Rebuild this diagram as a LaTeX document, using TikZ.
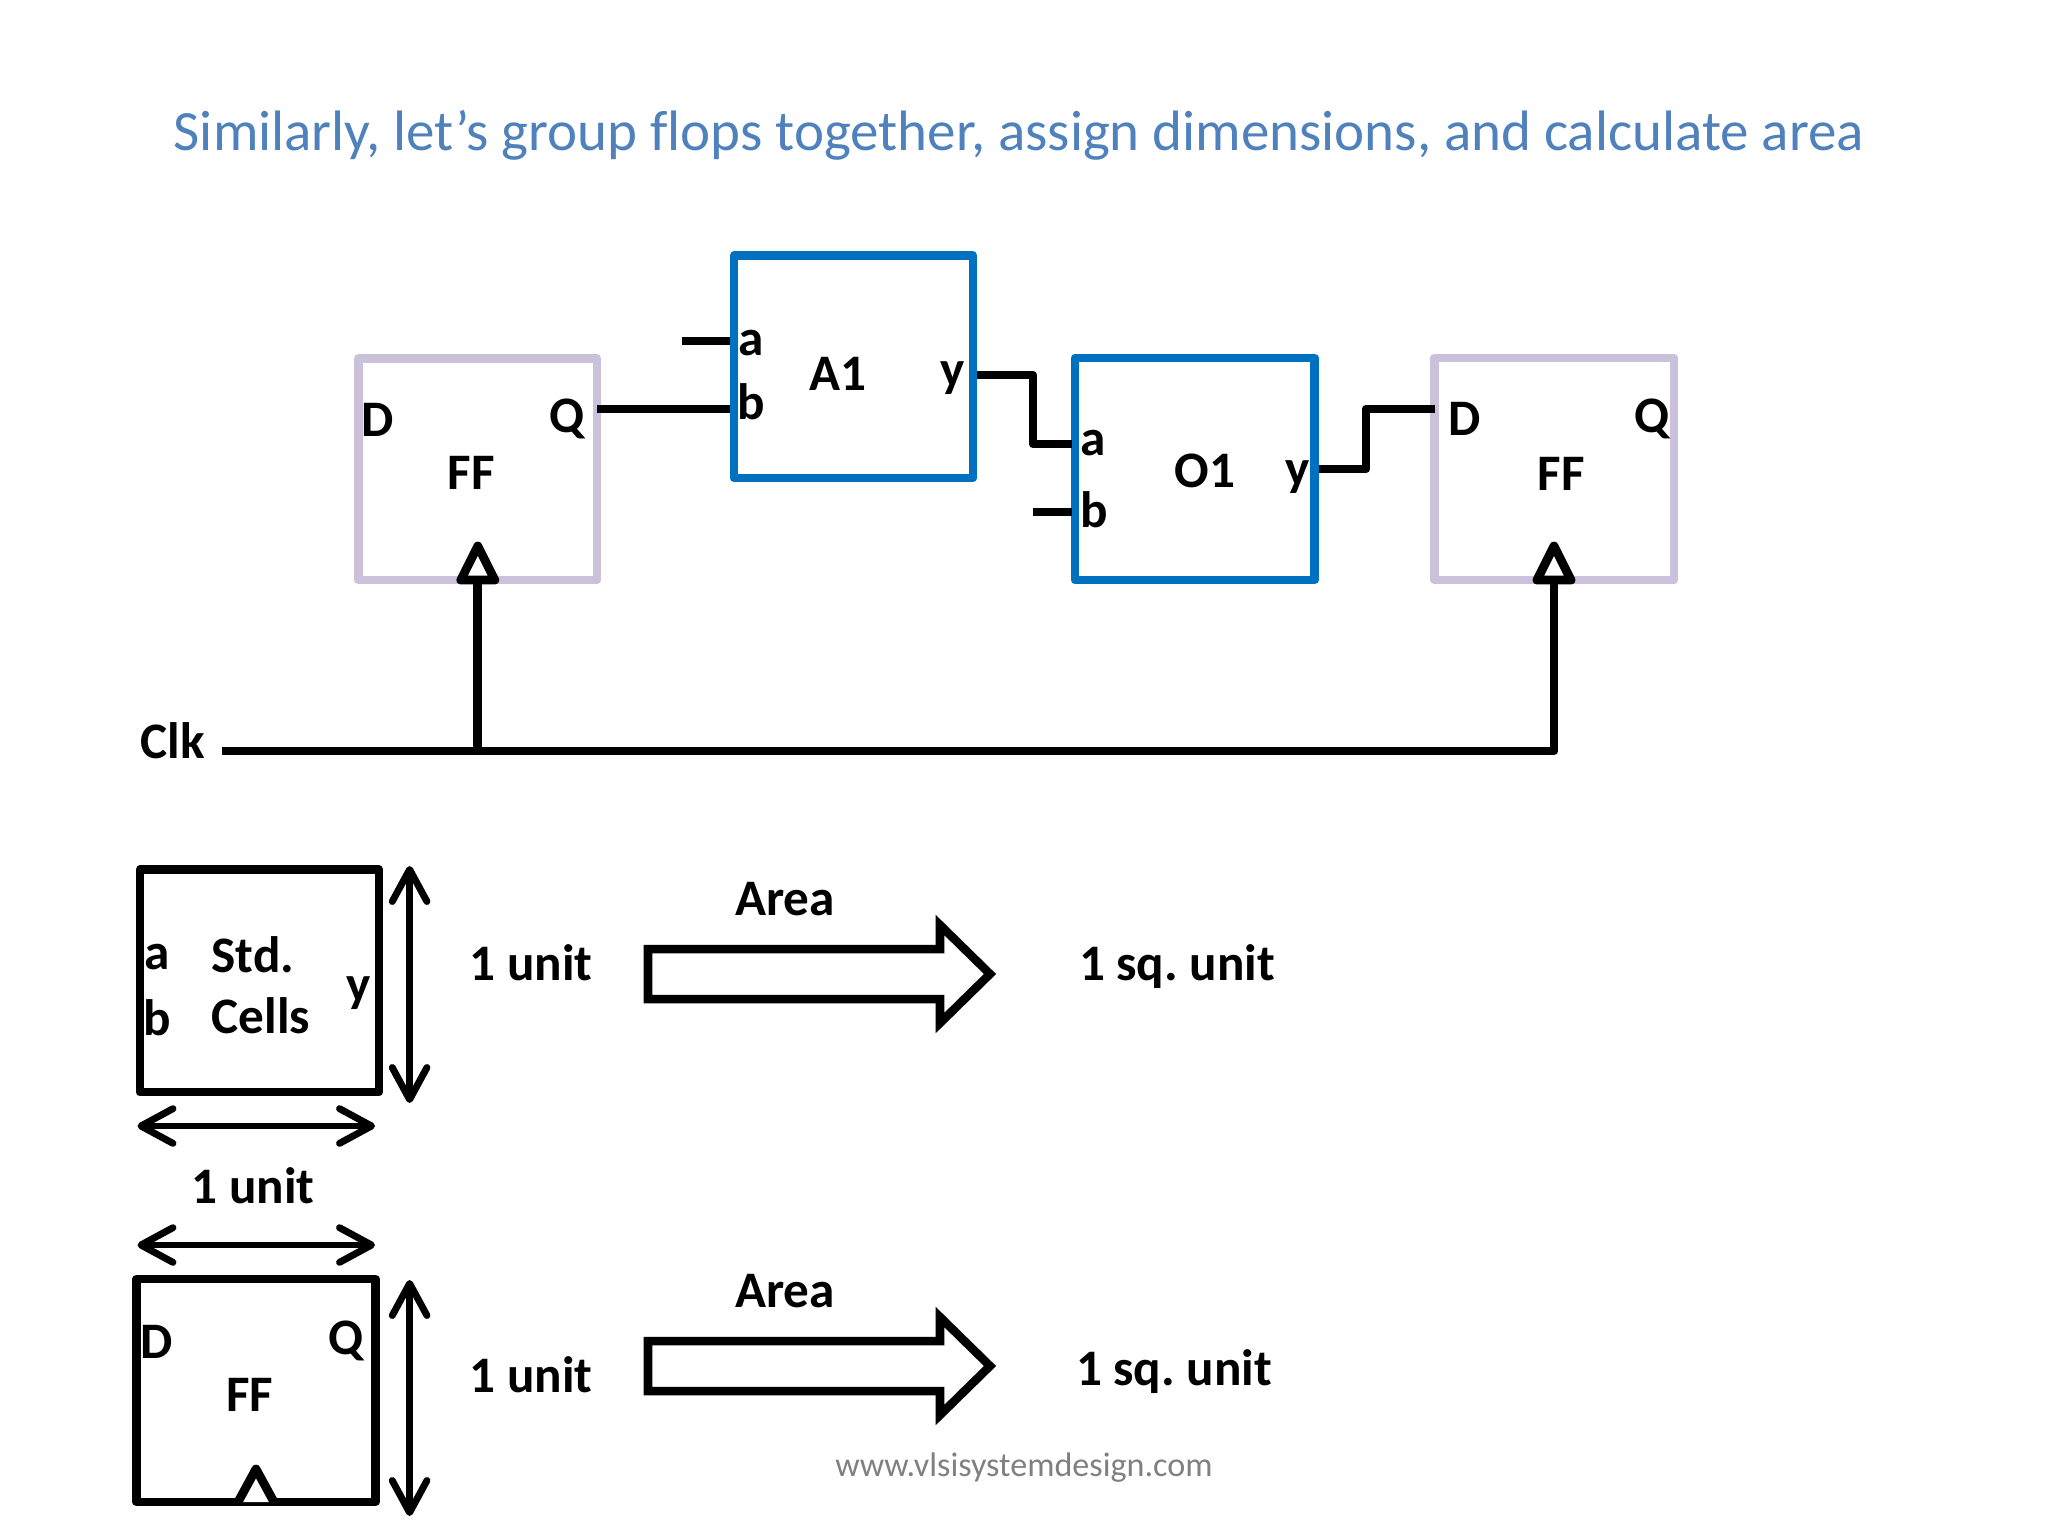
\documentclass[tikz,border=0pt]{standalone}
\usepackage{fontspec}
\setmainfont{Carlito}[Ligatures=NoCommon]
\usetikzlibrary{arrows.meta}
\definecolor{titleblue}{HTML}{4F81BD}
\definecolor{cellblue}{HTML}{0070C0}
\definecolor{floplilac}{HTML}{CCC1DA}
\definecolor{markgray}{HTML}{808080}
\frenchspacing
\tikzset{
  cellbox/.style = {draw=cellblue, line width=3.2pt, line join=round},
  flopbox/.style = {draw=floplilac, line width=3.2pt, line join=round},
  unitbox/.style = {draw=black, line width=3.3pt, line join=round},
  pin/.style     = {font=\fontsize{19.2}{21}\selectfont\bfseries, inner sep=0pt},
  wire/.style    = {draw=black, line width=3.3pt, line join=round},
  dimline/.style = {draw=black, line width=2.6pt,
    {Straight Barb[length=12pt,width=13pt,round]}-{Straight Barb[length=12pt,width=13pt,round]}},
  clkmark/.style = {draw=black, fill=white, line width=3.3pt, line join=round},
  fatarrow/.style = {draw=black, fill=white, line width=3.2pt, line join=miter},
}
\begin{document}
\begin{tikzpicture}[x=0.375pt,y=-0.375pt]
  \useasboundingbox (0,0) rectangle (2048,1536);

  \node[text=titleblue, font=\fontsize{21.37}{24}\selectfont, inner sep=0pt] (heading) at (1019,135)
    {Similarly, let’s group flops together, assign dimensions, and calculate area};

  % top row
  \path[flopbox] (358.6,358.3) rectangle (597,580);
  \path[cellbox] (734,255.7) rectangle (973,478);
  \path[cellbox] (1075,358) rectangle (1314.7,580);
  \path[flopbox] (1434.4,358) rectangle (1674,580);

  \coordinate (ffaq) at (597,409);
  \coordinate (a1b) at (730,409);
  \coordinate (a1a) at (730,341);
  \coordinate (a1afree) at (682,341);
  \coordinate (a1y) at (977,375);
  \coordinate (o1a) at (1072,444);
  \coordinate (o1b) at (1072,512);
  \coordinate (o1bfree) at (1033,512);
  \coordinate (o1y) at (1319,469);
  \coordinate (ffbd) at (1435,409);
  \coordinate (clkfree) at (222,751);
  \coordinate (clka) at (477.8,751);
  \coordinate (clkb) at (1554,751);

  \draw[wire] (ffaq) -- (a1b);
  \draw[wire] (a1afree) -- (a1a);
  \draw[wire] (a1y) -| (1033,444) -- (o1a);
  \draw[wire] (o1bfree) -- (o1b);
  \draw[wire] (o1y) -| (1366,409) -- (ffbd);
  \draw[wire] (clkfree) -- (clkb) -- (1554,580);
  \draw[wire] (clka) -- (477.8,580);
  \draw[clkmark] (477.8,546) -- (460.8,580) -- (494.8,580) -- cycle;
  \draw[clkmark] (1554,546) -- (1537,580) -- (1571,580) -- cycle;

  \node[pin] (dl) at (378,420) {D};
  \node[pin] (ql) at (567,419) {Q};
  \node[pin] (ffl) at (471,473) {FF};
  \node[pin] (aa) at (751,343) {a};
  \node[pin] (ab) at (751,402) {b};
  \node[pin] (an) at (838,374) {A1};
  \node[pin] (ay) at (953,378) {y};
  \node[pin] (oa) at (1093,443) {a};
  \node[pin] (ob) at (1094,510) {b};
  \node[pin] (on) at (1205,471) {O1};
  \node[pin] (oy) at (1298,477) {y};
  \node[pin] (dr) at (1465,419) {D};
  \node[pin] (qr) at (1652,419) {Q};
  \node[pin] (ffr) at (1561,474) {FF};
  \node[pin] (clk) at (173,741) {Clk};

  % standard cell
  \path[unitbox] (140,869.5) rectangle (379,1092);
  \node[pin] (sa) at (157,957) {a};
  \node[pin] (sb) at (157,1018) {b};
  \node[pin] (sy) at (359,993) {y};
  \node[pin] (std) at (253,955) {Std.};
  \node[pin] (cells) at (261,1016) {Cells};
  \draw[dimline] (409.6,866) -- (409.6,1103);
  \draw[dimline] (137.5,1126) -- (375,1126);
  \node[pin] (u1) at (253,1185.5) {1 unit};
  \node[pin] (u2) at (531,962.5) {1 unit};
  \node[pin] (area1) at (785,899) {Area};
  \path[fatarrow] (648,949) -- (940,949) -- (940,925) -- (990,974) -- (940,1023) -- (940,999) -- (648,999) -- cycle;
  \node[pin] (sq1) at (1177,966.5) {1 sq. unit};

  % flop
  \draw[dimline] (137.5,1245) -- (375,1245);
  \path[unitbox] (136.5,1279) rectangle (375.3,1502);
  \node[pin] (fd) at (157,1342) {D};
  \node[pin] (fq) at (345.7,1341) {Q};
  \node[pin] (ffu) at (249.5,1395) {FF};
  \draw[clkmark] (238,1502) -- (256,1469) -- (274,1502);
  \draw[dimline] (409.6,1280) -- (409.6,1516);
  \node[pin] (u3) at (531,1375) {1 unit};
  \node[pin] (area2) at (785,1291) {Area};
  \path[fatarrow] (648,1341) -- (940,1341) -- (940,1317) -- (990,1366) -- (940,1415) -- (940,1391) -- (648,1391) -- cycle;
  \node[pin] (sq2) at (1174,1372) {1 sq. unit};

  \node[text=markgray, font=\fontsize{12.8}{14}\selectfont, inner sep=0pt] (site) at (1024,1468) {www.vlsisystemdesign.com};
\end{tikzpicture}
\end{document}
